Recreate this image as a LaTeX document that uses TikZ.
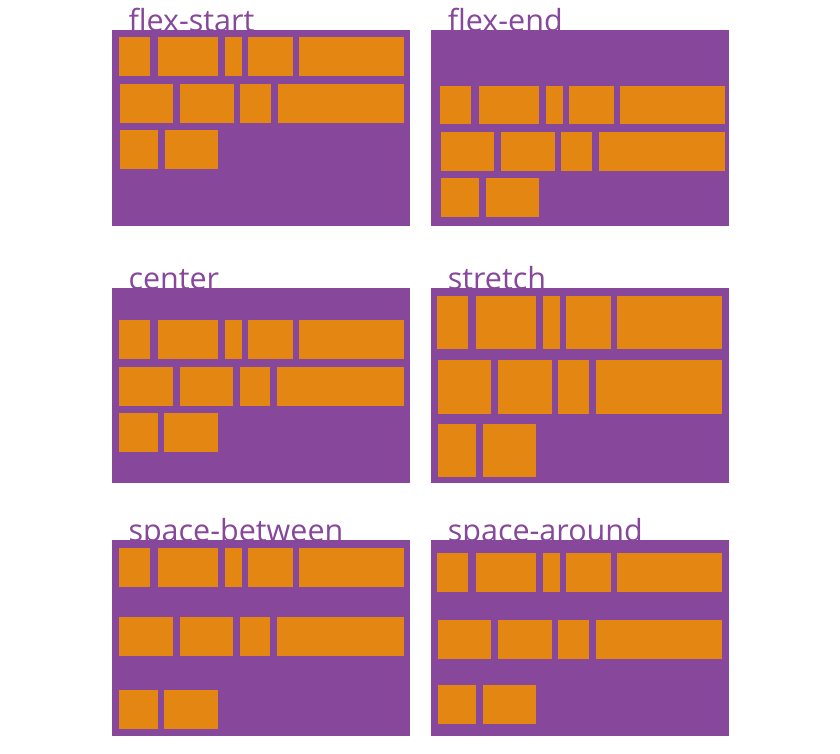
\documentclass[tikz,border=0pt]{standalone}
\usepackage{fontspec}
\setmainfont{Open Sans}
\definecolor{flexpurple}{RGB}{135,71,154}
\definecolor{flexorange}{RGB}{227,135,18}
\tikzset{
  panelbg/.style={fill=flexpurple},
  itembox/.style={fill=flexorange},
  lbl/.style={anchor=base west,inner sep=0pt,text=flexpurple,font=\fontsize{30.5}{36}\selectfont}
}
% #1 left, #2 top, #3 bottom, #4 item x0, #5 row height, #6 #7 #8 row tops, #9 label
\newcommand\flexpanel[9]{%
  \node[lbl,name=lbl-#9] at (#1+16.3,#2+1.5) {#9};
  \fill[panelbg] (#1,#2) rectangle (#1+297.5,#3);
  \foreach \a/\b in {0/31,39/99,106/123,129/174,180/285}
    \fill[itembox] (#4+\a,#6) rectangle (#4+\b,#6+#5);
  \foreach \a/\b in {0.5/54,61/114.5,121/151.5,158.5/285}
    \fill[itembox] (#4+\a,#7) rectangle (#4+\b,#7+#5);
  \foreach \a/\b in {0.5/39,45.5/99}
    \fill[itembox] (#4+\a,#8) rectangle (#4+\b,#8+#5);
}
\begin{document}
\begin{tikzpicture}[x=1pt,y=-1pt]
  \useasboundingbox[fill=white] (0,0) rectangle (840,754);
  \flexpanel{112}{30}{225.7}{119.3}{39}{37}{84}{130}{flex-start}
  \flexpanel{431.3}{30}{225.7}{440}{38.7}{85.7}{132.3}{178.3}{flex-end}
  \flexpanel{112}{288}{483.3}{118.7}{38.7}{320}{367}{413}{center}
  \flexpanel{431.3}{288}{483.3}{437.3}{53.6}{295.7}{360}{423.7}{stretch}
  \flexpanel{112}{540}{735.5}{118.7}{38.7}{548}{617}{690}{space-between}
  \flexpanel{431.3}{540}{735.5}{437.3}{38.8}{553.3}{620.3}{685.3}{space-around}
\end{tikzpicture}
\end{document}
